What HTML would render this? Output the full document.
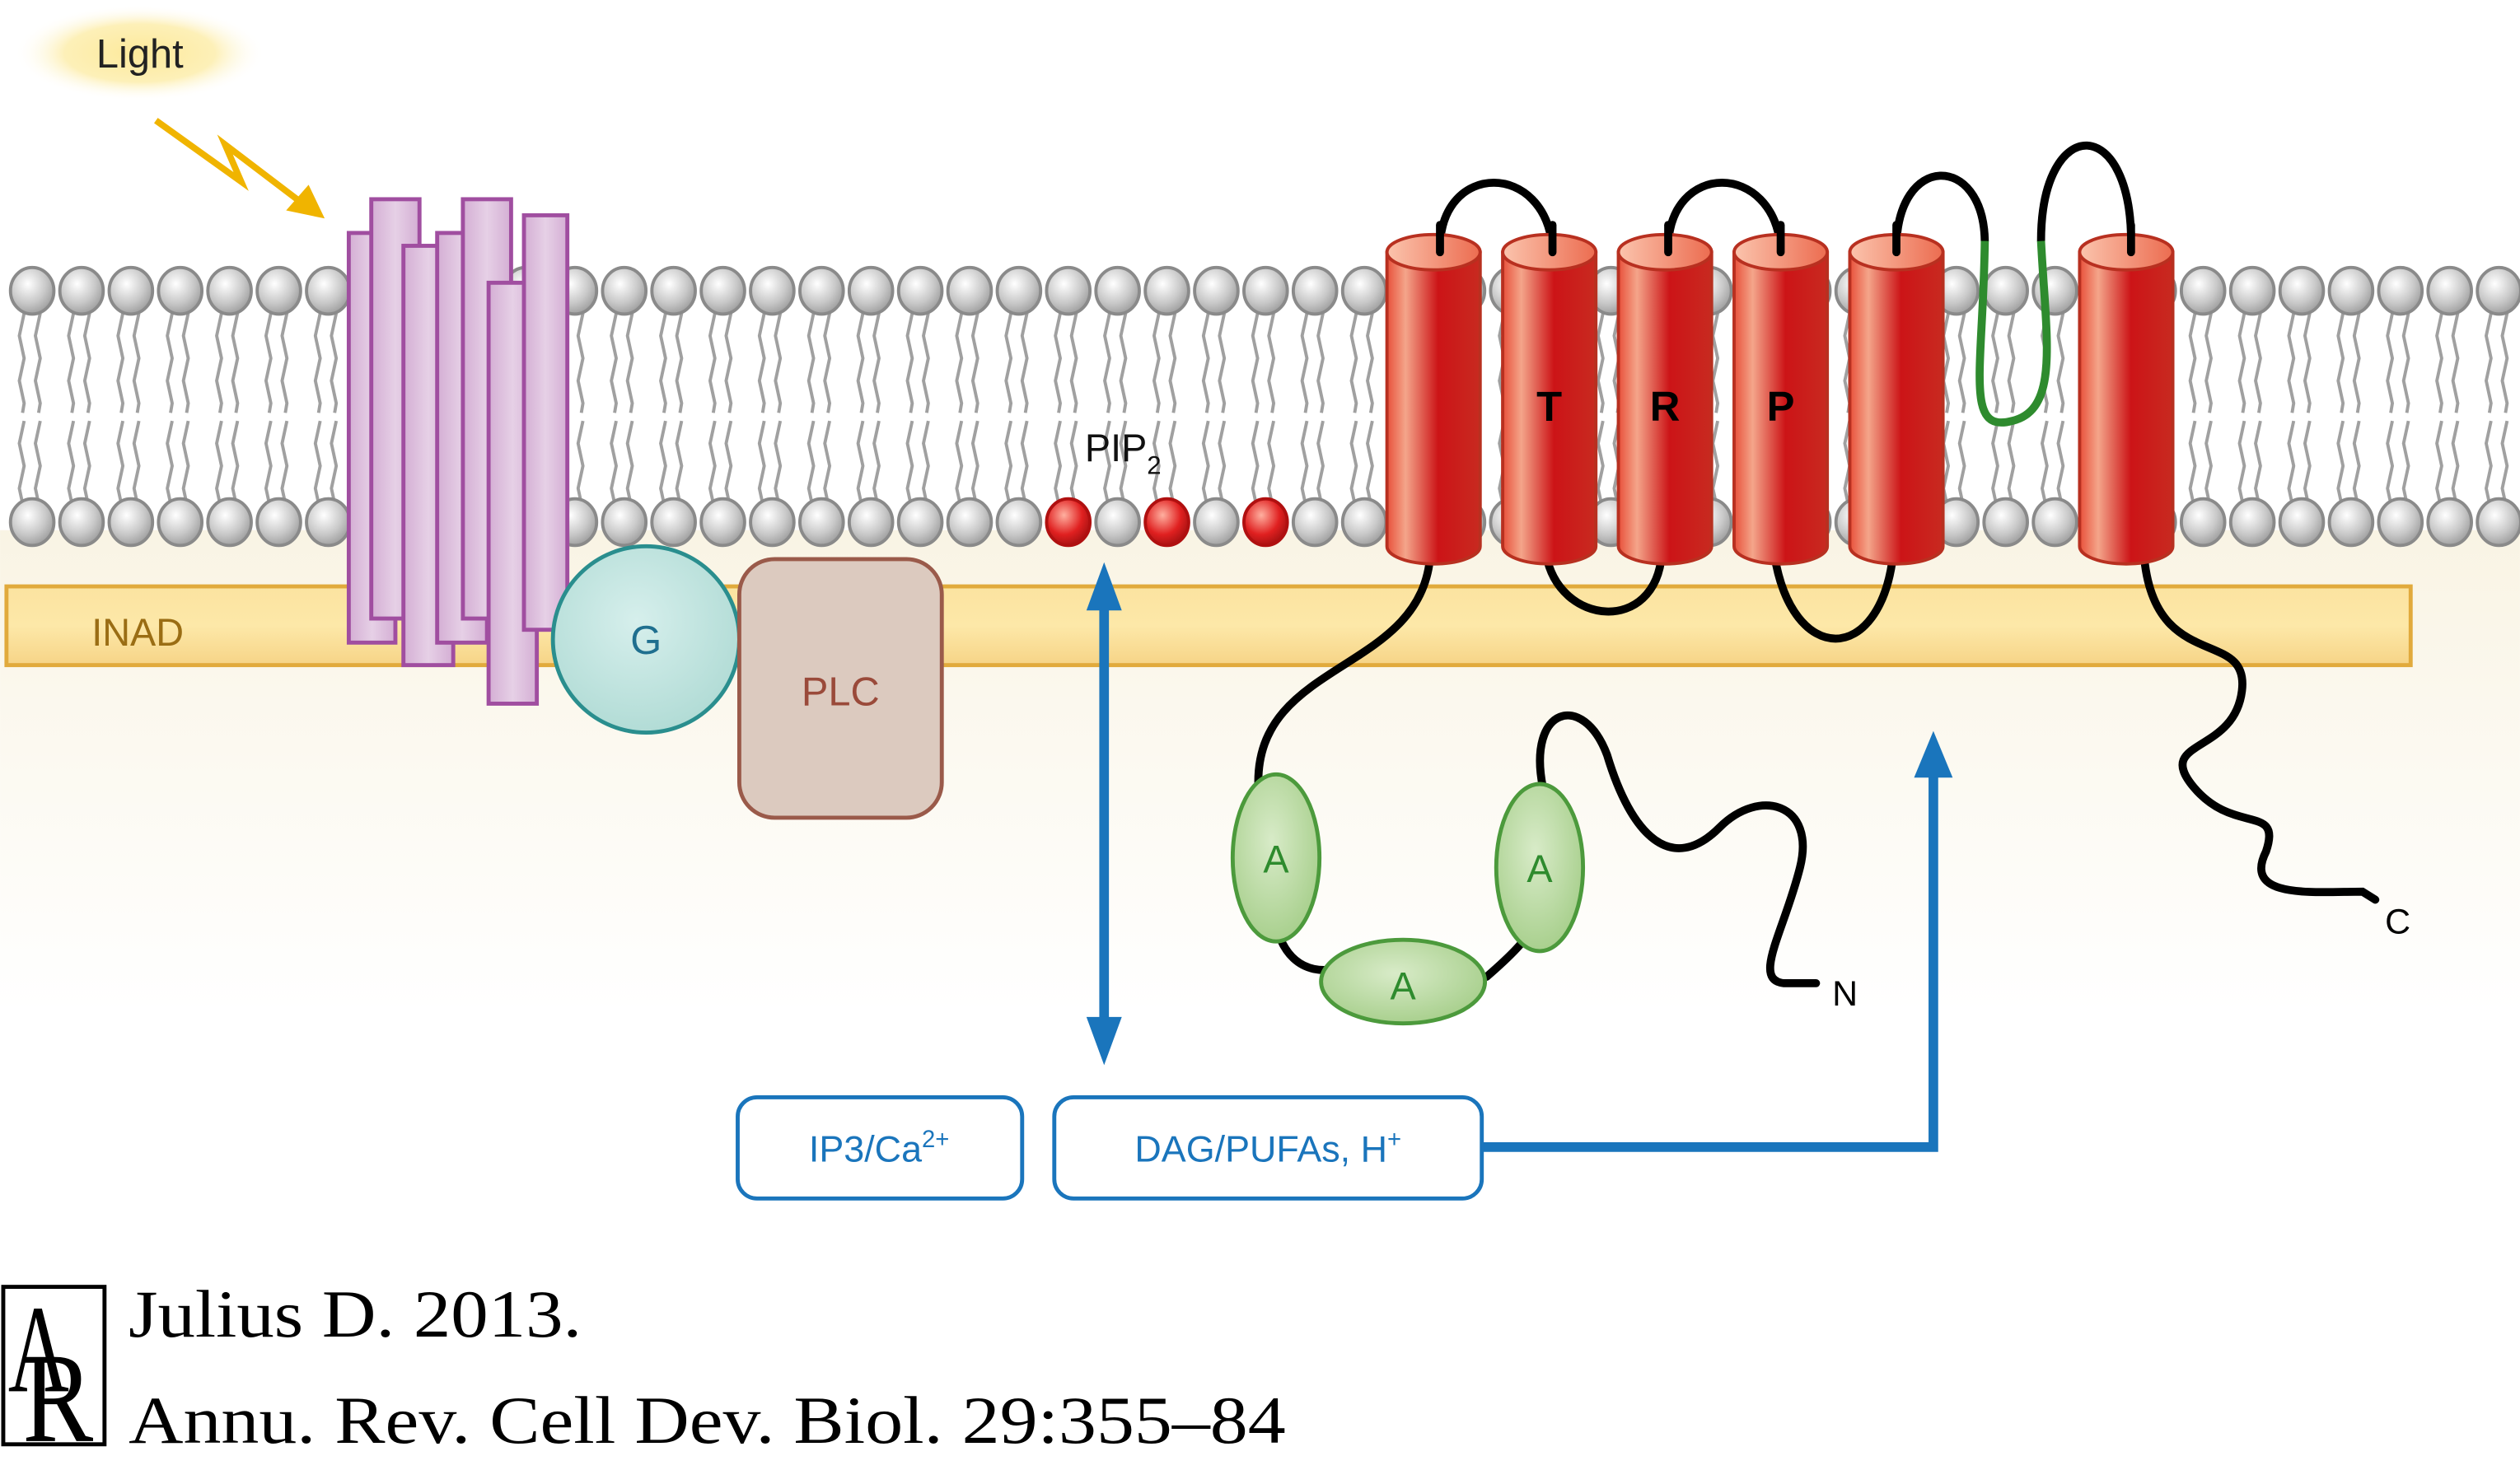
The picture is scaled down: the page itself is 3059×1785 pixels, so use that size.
<!DOCTYPE html>
<html><head><meta charset="utf-8">
<style>
html,body{margin:0;padding:0;background:#fff;}
svg{display:block;}
text{font-family:"Liberation Sans","DejaVu Sans",sans-serif;}
</style></head>
<body>
<svg id="fig" width="3059" height="1785" viewBox="0 0 1568 915" xmlns="http://www.w3.org/2000/svg">
<defs>
<radialGradient id="head" cx="0.4" cy="0.35" r="0.7"><stop offset="0" stop-color="#ffffff"/><stop offset="0.6" stop-color="#c8c8c8"/><stop offset="1" stop-color="#9a9a9a"/></radialGradient>
<radialGradient id="redhead" cx="0.4" cy="0.35" r="0.7"><stop offset="0" stop-color="#ffb0a0"/><stop offset="0.6" stop-color="#e02020"/><stop offset="1" stop-color="#a01010"/></radialGradient>
<linearGradient id="cyl" x1="0" x2="1"><stop offset="0" stop-color="#e8503a"/><stop offset="0.2" stop-color="#f4a58a"/><stop offset="0.55" stop-color="#cc1417"/><stop offset="1" stop-color="#c82a20"/></linearGradient>
<linearGradient id="cyltop" x1="0" x2="1"><stop offset="0" stop-color="#fbc4ad"/><stop offset="1" stop-color="#ec6c50"/></linearGradient>
<linearGradient id="purp" x1="0" x2="1"><stop offset="0" stop-color="#d4aed4"/><stop offset="0.5" stop-color="#e6d0e6"/><stop offset="1" stop-color="#d4aed4"/></linearGradient>
<linearGradient id="cream" x1="0" y1="0" x2="0" y2="1"><stop offset="0" stop-color="#f9f4e4"/><stop offset="1" stop-color="#ffffff"/></linearGradient>
<linearGradient id="inad" x1="0" y1="0" x2="0" y2="1"><stop offset="0" stop-color="#fbe3a0"/><stop offset="0.5" stop-color="#fde8a8"/><stop offset="1" stop-color="#f6d487"/></linearGradient>
<radialGradient id="glow" cx="0.5" cy="0.5" r="0.5"><stop offset="0" stop-color="#fde99a"/><stop offset="0.6" stop-color="#fdf0b8"/><stop offset="1" stop-color="#ffffff" stop-opacity="0"/></radialGradient>
<radialGradient id="gball" cx="0.45" cy="0.4" r="0.6"><stop offset="0" stop-color="#d6efec"/><stop offset="1" stop-color="#b2dcd6"/></radialGradient>
<radialGradient id="ank" cx="0.45" cy="0.4" r="0.6"><stop offset="0" stop-color="#d8ebc8"/><stop offset="1" stop-color="#a9d08e"/></radialGradient>
</defs>

<rect x="0" y="330" width="1568" height="300" fill="url(#cream)"/>
<g id="lipids"></g>

<ellipse cx="87" cy="33" rx="78" ry="30" fill="url(#glow)"/>
<text x="87" y="42" font-size="25" text-anchor="middle" fill="#222">Light</text>
<g stroke="#f0b400" stroke-width="4" fill="none">
<polyline points="97,75 150,113 140,90 190,128"/>
</g>
<polygon points="202,136 178,131 192,115" fill="#f0b400"/>

<rect x="4" y="365" width="1496" height="49" fill="url(#inad)" stroke="#e1aa3c" stroke-width="2.5"/>
<text x="57" y="402" font-size="24" fill="#9a6d14">INAD</text>

<g fill="url(#purp)" stroke="#a04ea0" stroke-width="2.5">
<rect x="217" y="145" width="29" height="255"/>
<rect x="231" y="124" width="30" height="261"/>
<rect x="251" y="153" width="31" height="261"/>
<rect x="272" y="145" width="31" height="255"/>
<rect x="288" y="124" width="30" height="261"/>
<rect x="304" y="176" width="30" height="262"/>
<rect x="326" y="134" width="27" height="258"/>
</g>

<circle cx="402" cy="398" r="58" fill="url(#gball)" stroke="#2a8e8e" stroke-width="2.5"/>
<text x="402" y="407" font-size="25" text-anchor="middle" fill="#1f6f8f">G</text>
<rect x="460" y="348" width="126" height="161" rx="22" fill="#dccabf" stroke="#9a5a4a" stroke-width="2.5"/>
<text x="523" y="439" font-size="25" text-anchor="middle" fill="#9a4a3a">PLC</text>

<text x="675" y="287" font-size="24" fill="#111">PIP<tspan font-size="16" dy="8">2</tspan></text>

<g fill="none" stroke="#000" stroke-width="5" stroke-linecap="round">
<path d="M896,155 C896,100 962,100 966,155"/>
<path d="M1038,155 C1038,100 1104,100 1108,155"/>
<path d="M1180,155 C1180,95 1234,95 1235,150"/>
<path d="M1270,150 C1270,70 1328,70 1326,155"/>
<path d="M962,345 C970,390 1030,395 1034,345"/>
<path d="M1104,345 C1115,415 1170,415 1178,345"/>
<path d="M890,345 C885,420 780,410 783,490"/>
<path d="M795,580 C805,610 830,605 840,600"/>
<path d="M925,608 C940,595 950,585 955,575"/>
<path d="M960,490 C950,440 985,430 1000,470 C1015,520 1040,545 1070,515 C1095,490 1130,500 1120,540 C1110,580 1090,610 1110,612 L1130,612"/>
<path d="M1334,345 C1340,420 1400,390 1395,430 C1390,470 1340,460 1365,490 C1390,520 1420,500 1410,530 C1395,560 1440,555 1470,555 L1478,560"/>
</g>
<path d="M1235,150 C1234,230 1222,270 1252,262 C1282,255 1273,210 1270,150" fill="none" stroke="#2e8b2e" stroke-width="5"/>

<g id="cyls"></g>
<text x="964" y="262" font-size="26" font-weight="bold" text-anchor="middle">T</text>
<text x="1036" y="262" font-size="26" font-weight="bold" text-anchor="middle">R</text>
<text x="1108" y="262" font-size="26" font-weight="bold" text-anchor="middle">P</text>

<g fill="url(#ank)" stroke="#4c9a3c" stroke-width="2.5">
<ellipse cx="794" cy="534" rx="27" ry="52"/>
<ellipse cx="873" cy="611" rx="51" ry="26"/>
<ellipse cx="958" cy="540" rx="27" ry="52"/>
</g>
<g font-size="24" fill="#2e8b2e" text-anchor="middle">
<text x="794" y="543">A</text><text x="873" y="622">A</text><text x="958" y="549">A</text>
</g>
<text x="1148" y="626" font-size="22" text-anchor="middle">N</text>
<text x="1492" y="581" font-size="22" text-anchor="middle">C</text>

<g stroke="#1a75bc" stroke-width="6" fill="none">
<line x1="687" y1="370" x2="687" y2="642"/>
<polyline points="922,714 1203,714 1203,478"/>
</g>
<g fill="#1a75bc">
<polygon points="687,350 676,380 698,380"/>
<polygon points="687,663 676,633 698,633"/>
<polygon points="1203,455 1191,484 1215,484"/>
</g>
<rect x="459" y="683" width="177" height="63" rx="12" fill="#fff" stroke="#1a75bc" stroke-width="2.5"/>
<text x="547" y="723" font-size="23" text-anchor="middle" fill="#1a75bc">IP3/Ca<tspan font-size="15" dy="-9">2+</tspan></text>
<rect x="656" y="683" width="266" height="63" rx="12" fill="#fff" stroke="#1a75bc" stroke-width="2.5"/>
<text x="789" y="723" font-size="23" text-anchor="middle" fill="#1a75bc">DAG/PUFAs, H<tspan font-size="15" dy="-9">+</tspan></text>

<g>
<rect x="2" y="801" width="63" height="98" fill="none" stroke="#000" stroke-width="2.5"/>
<text x="5" y="866" font-size="78" textLength="38" lengthAdjust="spacingAndGlyphs" style="font-family:'Liberation Serif',serif">A</text>
<text x="14" y="897" font-size="80" textLength="44" lengthAdjust="spacingAndGlyphs" style="font-family:'Liberation Serif',serif">R</text>
</g>
<text x="80" y="832" font-size="42" textLength="282" lengthAdjust="spacingAndGlyphs" fill="#000" style="font-family:'Liberation Serif',serif">Julius D. 2013.</text>
<text x="80" y="898" font-size="42" textLength="720" lengthAdjust="spacingAndGlyphs" fill="#000" style="font-family:'Liberation Serif',serif">Annu. Rev. Cell Dev. Biol. 29:355–84</text>
</svg>
<script>
const NS='http://www.w3.org/2000/svg';
const lip=document.getElementById('lipids');
const redHeads=[663,724,786];
function mk(t,a){const e=document.createElementNS(NS,t);for(const k in a)e.setAttribute(k,a[k]);return e;}
let tails='';
for(let i=0;i<51;i++){
  const x=20+i*30.7;
  for(const dx of [-5,5]){
    const tx=x+dx;
    tails+=`M${tx},195 l-3,14 l3,14 l-3,14 l3,14 l-1,6 M${tx},262 l-3,14 l3,14 l-3,14 l3,14 l-1,4 `;
  }
}
const tp=mk('path',{d:tails,fill:'none',stroke:'#a0a0a0','stroke-width':'2'});


lip.appendChild(tp);
for(let i=0;i<51;i++){
  const x=20+i*30.7;
  for(const y of [181,325]){
    const red= y===325 && redHeads.some(r=>Math.abs(r-x)<12);
    const h=mk('ellipse',{cx:x,cy:y,rx:13.5,ry:14.5,fill:red?'url(#redhead)':'url(#head)',stroke:red?'#b01010':'#8a8a8a','stroke-width':'2'});
    
    
    lip.appendChild(h);
  }
}
const cyls=document.getElementById('cyls');
const cx=[892,964,1036,1108,1180,1323];
cx.forEach((x,i)=>{
  const g=mk('g',{});
  
  
  g.appendChild(mk('path',{d:`M${x-29},157 L${x-29},340 A29,11 0 0 0 ${x+29},340 L${x+29},157 Z`,fill:'url(#cyl)',stroke:'#b83020','stroke-width':'2'}));
  g.appendChild(mk('ellipse',{cx:x,cy:157,rx:29,ry:11,fill:'url(#cyltop)',stroke:'#b83020','stroke-width':'2'}));
  cyls.appendChild(g);
});
const ends=[896,966,1038,1108,1180,1326];
ends.forEach(x=>{
  const l=mk('line',{x1:x,y1:140,x2:x,y2:157,stroke:'#000','stroke-width':'5','stroke-linecap':'round'});
  
  
  cyls.appendChild(l);
});
</script>
</body></html>
